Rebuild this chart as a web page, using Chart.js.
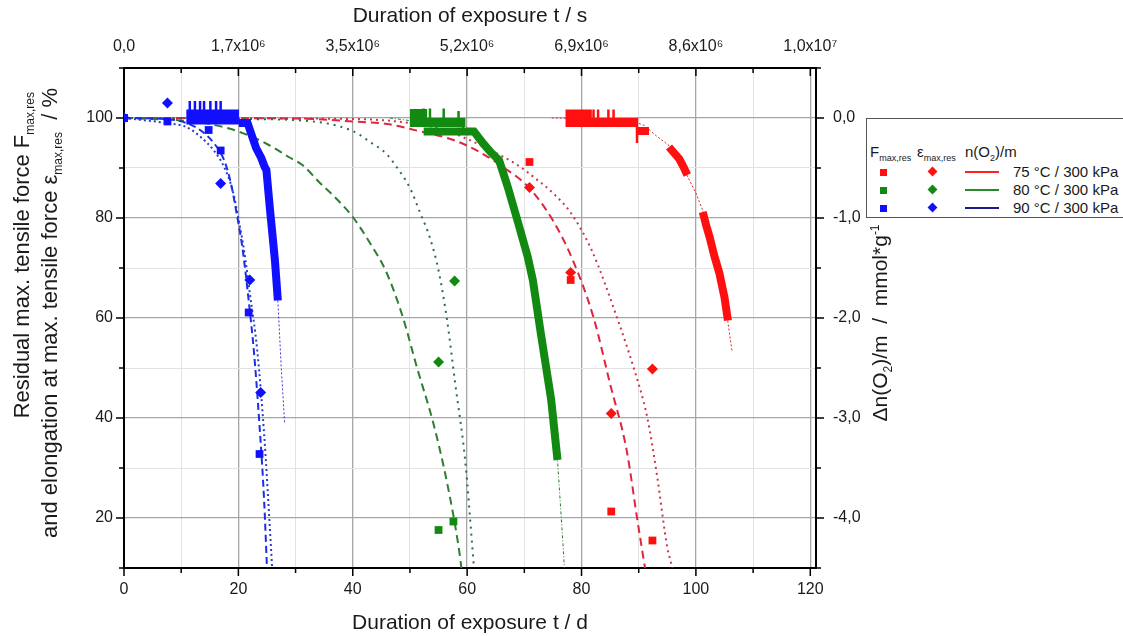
<!DOCTYPE html>
<html>
<head>
<meta charset="utf-8">
<script src="https://cdn.jsdelivr.net/npm/chart.js@4.4.1/dist/chart.umd.min.js"></script>
<style>
  body { margin: 0; background: #fff; }
  #wrap { position: relative; width: 1123px; height: 636px; font-family: "Liberation Sans", Arial, sans-serif; color: #1a1a1a; overflow: hidden; }
  #chart { position: absolute; left: 0; top: 0; }
  .title { position: absolute; font-size: 21px; line-height: 22px; white-space: nowrap; }
  .vert { transform-origin: left top; transform: rotate(-90deg); line-height: 24px; }
  .title sub, .title sup { font-size: 12px; line-height: 0; }
  #legend { position: absolute; left: 866px; top: 118px; width: 256px; height: 98px; border: 1px solid #555; border-right: none; background: #fff; font-size: 15px; }
  #legend div { position: absolute; white-space: nowrap; line-height: 18px; }
  #legend sub { font-size: 9px; line-height: 0; }
  .sq { width: 7px; height: 7px; }
  .dm { width: 7px; height: 7px; transform: rotate(45deg); }
  .ln { height: 2px; width: 34px; }
</style>
</head>
<body>
<div id="wrap">
  <canvas id="chart" width="1123" height="636"></canvas>

  <div class="title" style="left:124px; width:692px; top:4px; text-align:center;">Duration of exposure t / s</div>
  <div class="title" style="left:124px; width:692px; top:611px; text-align:center;">Duration of exposure t / d</div>
  <div class="title vert" style="left:10px; top:572px; width:480px; text-align:right; font-size:22px;">Residual max. tensile force F<sub>max,res</sub></div>
  <div class="title vert" style="left:38px; top:568px; width:480px; text-align:right; font-size:22px;">and elongation at max. tensile force &epsilon;<sub>max,res</sub>&nbsp;&nbsp;/ %</div>
  <div class="title vert" style="left:868px; top:473px; width:300px; text-align:center;">&Delta;n(O<sub>2</sub>)/m &nbsp;/&nbsp; mmol*g<sup>-1</sup></div>

  <div id="legend">
    <div style="left:3px; top:24px;">F<sub>max,res</sub></div>
    <div style="left:50px; top:24px;">&epsilon;<sub>max,res</sub></div>
    <div style="left:98px; top:24px;">n(O<sub>2</sub>)/m</div>

    <div class="sq" style="left:13px; top:50px; background:#ff1010;"></div>
    <div class="dm" style="left:62px; top:49px; background:#ff1010;"></div>
    <div class="ln" style="left:98px; top:52px; background:#ff2020;"></div>
    <div style="left:146px; top:44px;">75 °C / 300 kPa</div>

    <div class="sq" style="left:13px; top:68px; background:#128a12;"></div>
    <div class="dm" style="left:62px; top:67px; background:#128a12;"></div>
    <div class="ln" style="left:98px; top:70px; background:#2a8a2a;"></div>
    <div style="left:146px; top:62px;">80 °C / 300 kPa</div>

    <div class="sq" style="left:13px; top:86px; background:#1010ff;"></div>
    <div class="dm" style="left:62px; top:85px; background:#1010ff;"></div>
    <div class="ln" style="left:98px; top:88px; background:#1a1a8c;"></div>
    <div style="left:146px; top:80px;">90 °C / 300 kPa</div>
  </div>
</div>

<script>
// axis ticks
const dayTicks = [0, 20, 40, 60, 80, 100, 120];
const secTickLabels = ['0,0', '1,7x10⁶', '3,5x10⁶', '5,2x10⁶', '6,9x10⁶', '8,6x10⁶', '1,0x10⁷'];
const pctTicks = [20, 40, 60, 80, 100];
const o2Ticks = [0, -1, -2, -3, -4];

// residual max. tensile force, % (day, value)
const fmax75 = [[0, 100], [70.9, 91.2], [78.1, 67.6], [85.2, 21.3], [92.4, 15.5]];
const fmax80 = [[0, 100], [55.0, 17.6], [57.6, 19.3]];
const fmax90 = [[0, 100], [7.6, 99.3], [14.8, 97.6], [16.9, 93.5], [21.8, 61.1], [23.7, 32.8]];

// elongation at max. tensile force, %
const eps75 = [[0, 100], [70.9, 86.1], [78.1, 69.1], [85.2, 40.9], [92.4, 49.8]];
const eps80 = [[0, 100], [55.0, 51.2], [57.8, 67.4]];
const eps90 = [[0, 100], [7.6, 103.0], [16.9, 86.9], [22.0, 67.6], [23.9, 45.1]];

// fitted curves, %
const fmaxFit75 = [[0, 100], [40, 99.8], [50, 99], [56, 97.6], [60, 95.8], [64, 93.6], [68.8, 90.6], [72.4, 87.5], [75, 85], [78.2, 80.9], [81.8, 73.5], [86.2, 60.1], [89.1, 50.1], [91.5, 40.1], [93.2, 28.5], [95, 14.1], [95.9, 10]];
const epsFit75 = [[0, 100], [30, 99.9], [40, 99.3], [46, 98.8], [51.5, 97.4], [57.6, 95.6], [62, 93.3], [66, 90.4], [70.7, 86.2], [75, 79.5], [78.5, 71.5], [82.1, 60.1], [85, 46.8], [87.9, 33.5], [89.7, 20.1], [91.1, 10]];
const fmaxFit80 = [[0, 100], [20, 99.8], [31.2, 99.5], [40, 97.4], [42.9, 95.3], [45.9, 92.8], [47.6, 90.3], [50, 86], [51.8, 81], [53.5, 76], [55, 69.5], [56.5, 59.5], [57.9, 47], [59.7, 31], [60.9, 14.3], [61.2, 10]];
const epsFit80 = [[0, 100], [10, 99.5], [15, 98.8], [20, 97.3], [25, 94.8], [28.8, 92.2], [31.2, 90.6], [34.1, 87.2], [37.1, 83.9], [40, 80.2], [42.9, 75.2], [45.9, 69.1], [48.8, 60], [51.2, 50.2], [54.1, 38.9], [56.5, 27], [58.5, 14.3], [59, 10]];
const fmaxFit90 = [[0, 100], [7.3, 99], [10.9, 98.2], [13.3, 96.3], [15.7, 93.5], [17.5, 90.2], [19, 85.5], [19.9, 80.5], [21, 73.5], [22, 65], [23.3, 53.5], [24.5, 36.8], [25.7, 14.1], [25.9, 10]];
const epsFit90 = [[0, 100], [7.3, 99.8], [10.9, 99], [13.3, 97.6], [15.7, 95], [17.5, 91.6], [18.7, 86.9], [19.6, 81.5], [20.7, 74.1], [21.8, 63.5], [22.7, 53.5], [23.6, 40.1], [24.5, 23.5], [25, 10]];

// oxygen consumption n(O2)/m, mmol/g (null = gap in the record)
const o2Upper75 = [[77.2, 0.04], [81.8, 0.04]];
const o2Lower75 = [[77.2, -0.045], [89.8, -0.045]];
const o2Spikes75 = [[82.1, 0.085], [82.9, 0.085], [84.7, 0.085], [85.6, 0.085], [89.7, -0.25]];
const o2Drop75 = [[89.7, -0.13], [91.8, -0.13], null, [95.3, -0.29], [96.2, -0.35], [97.1, -0.41], [97.8, -0.485], [98.5, -0.57], null, [101.2, -0.94], [101.8, -1.075], [102.4, -1.19], [103.2, -1.375], [104.1, -1.55], [105, -1.795], [105.6, -2.025]];
const o2Fit75 = [[74.8, 0], [88, -0.01], [91, -0.075], [93, -0.175], [95.3, -0.275], [98, -0.525], [100, -0.75], [101.2, -0.925], [103.2, -1.375], [105, -1.8], [106.3, -2.325]];

const o2Upper80 = [[50, 0.045], [53, 0.045]];
const o2Lower80 = [[50, -0.045], [59.7, -0.045]];
const o2Spikes80 = [[52.4, 0.095], [53.5, 0.095], [55.9, 0.095], [58.5, 0.07]];
const o2Drop80 = [[52.4, -0.135], [61.2, -0.135], [62.8, -0.255], [64.1, -0.34], [65.6, -0.425], [67.1, -0.69], [68.8, -1.025], [70.6, -1.39], [71.5, -1.625], [72.9, -2.16], [74.7, -2.82], [75.8, -3.42]];
const o2Fit80 = [[46.5, 0], [60, -0.1], [64, -0.33], [66, -0.55], [68, -0.85], [70, -1.25], [72, -1.8], [74, -2.5], [75.8, -3.42], [76.8, -4.3], [77, -4.5]];

const o2Plateau90 = [[10.9, 0.01], [20.1, 0.01]];
const o2Spikes90 = [[11.5, 0.17], [12.4, 0.17], [13.3, 0.17], [14.0, 0.17], [15.1, 0.17], [16.1, 0.17], [16.9, 0.17]];
const o2Drop90 = [[20.1, -0.05], [21.6, -0.05], [22.5, -0.2], [23.1, -0.3], [24, -0.4], [24.6, -0.49], [24.9, -0.52], [25.5, -0.9], [26.1, -1.25], [26.4, -1.43], [26.9, -1.825]];
const o2Fit90 = [[26.9, -1.825], [27.5, -2.5], [28.1, -3.06]];

const RED = '#ff1010', GREEN = '#128a12', BLUE = '#1010ff';

function pts(arr) {
  return arr.map(p => p ? { x: p[0], y: p[1] } : { x: null, y: null });
}

// vertical strokes from the plateau level up (or down) to each reading
function spikePts(arr) {
  const out = [];
  arr.forEach(([d, v]) => { out.push({ x: d, y: 0 }, { x: d, y: v }, { x: null, y: null }); });
  return out;
}

function markers(arr, color, style, radius) {
  return {
    data: pts(arr), yAxisID: 'y', showLine: false,
    pointStyle: style, pointRadius: radius, pointHoverRadius: radius,
    backgroundColor: color, borderColor: color, borderWidth: 0
  };
}

function curve(arr, color, dash, width) {
  return {
    data: pts(arr), yAxisID: 'y', showLine: true, pointRadius: 0,
    borderColor: color, borderWidth: width, borderDash: dash,
    cubicInterpolationMode: 'monotone'
  };
}

function record(data, color, width, dash) {
  return {
    data, yAxisID: 'y2', showLine: true, pointRadius: 0,
    borderColor: color, borderWidth: width, borderDash: dash || [],
    borderCapStyle: 'butt', borderJoinStyle: 'miter', spanGaps: false
  };
}

const datasets = [
  markers(fmax90, BLUE, 'rect', 5.5),
  markers(eps90, BLUE, 'rectRot', 5.5),
  markers(fmax80, GREEN, 'rect', 5.5),
  markers(eps80, GREEN, 'rectRot', 5.5),
  markers(fmax75, RED, 'rect', 5.5),
  markers(eps75, RED, 'rectRot', 5.5),

  record(pts(o2Plateau90), BLUE, 15),
  record(spikePts(o2Spikes90), BLUE, 2.5),
  record(pts(o2Drop90), BLUE, 8),
  record(pts(o2Fit90), '#3a3ad0', 1, [2, 2]),
  record(pts(o2Upper80), GREEN, 9),
  record(pts(o2Lower80), GREEN, 9),
  record(spikePts(o2Spikes80), GREEN, 2.5),
  record(pts(o2Drop80), GREEN, 8),
  record(pts(o2Fit80), '#2a7a2a', 1, [3, 2, 1, 2]),
  record(pts(o2Upper75), RED, 9),
  record(pts(o2Lower75), RED, 9),
  record(spikePts(o2Spikes75), RED, 2.5),
  record(pts(o2Drop75), RED, 8),
  record(pts(o2Fit75), '#d03030', 1, [2, 2]),

  curve(epsFit90, '#1a2ee8', [7, 4], 2),
  curve(fmaxFit90, '#2a3ad0', [2, 3], 2),
  curve(epsFit80, '#2e7d32', [8, 5], 2),
  curve(fmaxFit80, '#2d6a45', [2, 5], 2),
  curve(epsFit75, '#e0243c', [8, 5], 2),
  curve(fmaxFit75, '#c8374a', [2, 4], 2)
];

Chart.defaults.font.family = '"Liberation Sans", Arial, sans-serif';
Chart.defaults.font.size = 16;
Chart.defaults.color = '#1a1a1a';

const isMajor = (v, step) => Math.abs(v / step - Math.round(v / step)) < 1e-6;
const gridColor = (ctx) => (ctx.tick && isMajor(ctx.tick.value, 20)) ? '#a6a6a6' : '#e2e2e2';
const gridWidth = (ctx) => (ctx.tick && isMajor(ctx.tick.value, 20)) ? 1.3 : 1;

// long ticks on labelled values, short ones in between; the top axis ticks point inwards
const tickMarks = {
  id: 'tickMarks',
  afterDraw(chart) {
    const { ctx, chartArea: a, scales } = chart;
    ctx.save();
    ctx.strokeStyle = '#000';
    ctx.lineWidth = 1.5;
    ctx.beginPath();
    scales.x.ticks.forEach(t => {
      const px = scales.x.getPixelForValue(t.value);
      const len = isMajor(t.value, 20) ? 8 : 5;
      ctx.moveTo(px, a.bottom); ctx.lineTo(px, a.bottom + len);
      ctx.moveTo(px, a.top); ctx.lineTo(px, a.top + len);
    });
    scales.y.ticks.forEach(t => {
      const py = scales.y.getPixelForValue(t.value);
      const len = isMajor(t.value, 20) ? 8 : 5;
      ctx.moveTo(a.left, py); ctx.lineTo(a.left - len, py);
    });
    scales.y2.ticks.forEach(t => {
      const py = scales.y2.getPixelForValue(t.value);
      const len = isMajor(t.value, 1) ? 8 : 5;
      ctx.moveTo(a.right, py); ctx.lineTo(a.right + len, py);
    });
    ctx.stroke();
    ctx.restore();
  }
};

new Chart(document.getElementById('chart'), {
  type: 'scatter',
  data: { datasets },
  plugins: [tickMarks],
  options: {
    responsive: false,
    animation: false,
    devicePixelRatio: 1,
    layout: { padding: 0 },
    plugins: { legend: { display: false }, tooltip: { enabled: false } },
    scales: {
      x: {
        type: 'linear', position: 'bottom', min: 0, max: 121,
        ticks: { stepSize: 10, includeBounds: false, autoSkip: false, maxRotation: 0, padding: 12,
          callback: v => dayTicks.includes(v) ? String(v) : '' },
        grid: { color: gridColor, lineWidth: gridWidth, drawTicks: false },
        border: { color: '#000', width: 2 },
        afterFit: s => { s.height = 636 - 568; }
      },
      xTop: {
        type: 'linear', position: 'top', min: 0, max: 121,
        ticks: { stepSize: 10, includeBounds: false, autoSkip: false, maxRotation: 0, padding: 12,
          callback: v => { const i = dayTicks.indexOf(v); return i >= 0 ? secTickLabels[i] : ''; } },
        grid: { drawOnChartArea: false, drawTicks: false },
        border: { color: '#000', width: 2 },
        afterFit: s => { s.height = 68; }
      },
      y: {
        position: 'left', min: 10, max: 110,
        ticks: { stepSize: 10, autoSkip: false, padding: 11,
          callback: v => pctTicks.includes(v) ? String(v) : '' },
        grid: { color: gridColor, lineWidth: gridWidth, drawTicks: false },
        border: { color: '#000', width: 2 },
        afterFit: s => { s.width = 124; }
      },
      y2: {
        position: 'right', min: -4.5, max: 0.5,
        ticks: { stepSize: 0.5, autoSkip: false, padding: 17,
          callback: v => { const r = Math.round(v * 10) / 10; return o2Ticks.includes(r) ? r.toFixed(1).replace('.', ',') : ''; } },
        grid: { drawOnChartArea: false, drawTicks: false },
        border: { color: '#000', width: 2 },
        afterFit: s => { s.width = 1123 - 816; }
      }
    }
  }
});
</script>
</body>
</html>
